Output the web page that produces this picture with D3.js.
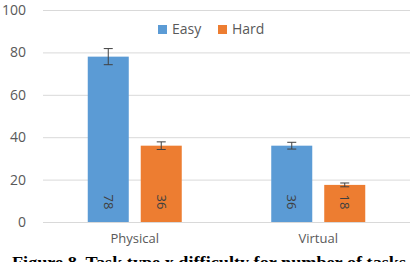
<!DOCTYPE html>
<html>
<head>
<meta charset="utf-8">
<script src="https://cdn.jsdelivr.net/npm/d3@7"></script>
<style>
  body { margin: 0; background: #fff; }
  svg { display: block; }
</style>
</head>
<body>
<svg id="chart" width="412" height="262"></svg>
<script>
// data
const categories = ['Physical', 'Virtual'];
const series = ['Easy', 'Hard'];
const easyValues = [78, 36];
const hardValues = [36, 17.5];
const easyErrors = [3.8, 1.6];
const hardErrors = [1.8, 0.9];
const easyLabels = ['78', '36'];
const hardLabels = ['36', '18'];
const yTicks = [0, 20, 40, 60, 80, 100];
const colors = ['#5b9bd5', '#ed7d31'];

let rows = [];
categories.forEach((c, i) => {
  rows.push({cat: c, s: 'Easy', v: easyValues[i], e: easyErrors[i], lab: easyLabels[i]});
  rows.push({cat: c, s: 'Hard', v: hardValues[i], e: hardErrors[i], lab: hardLabels[i]});
});

let svg = d3.select('#chart');
let font = '"Open Sans", "Liberation Sans", sans-serif';

let y = d3.scaleLinear().domain([0, 100]).range([222, 10]);
let x0 = d3.scaleBand().domain(categories).range([43, 410]);
let groupW = 94;
let x1 = d3.scaleBand().domain(series)
    .range([x0.bandwidth() / 2 - groupW / 2, x0.bandwidth() / 2 + groupW / 2])
    .paddingInner(0.226);
let color = d3.scaleOrdinal().domain(series).range(colors);

// gridlines + y labels
let yAxis = d3.axisLeft(y).tickValues(yTicks).tickSize(-367).tickPadding(17);
let gy = svg.append('g').attr('transform', 'translate(43,0)').call(yAxis);
gy.select('.domain').remove();
gy.selectAll('.tick line').attr('stroke', '#d9d9d9').attr('stroke-width', 1);
gy.selectAll('.tick text').attr('fill', '#595959').style('font-family', font).style('font-size', '14px');

// x labels
let xAxis = d3.axisBottom(x0).tickSize(0).tickPadding(12);
let gx = svg.append('g').attr('transform', 'translate(0,222)').call(xAxis);
gx.select('.domain').remove();
gx.selectAll('.tick text').attr('fill', '#595959').style('font-family', font).style('font-size', '13px');

// bars
let bars = svg.append('g').selectAll('g').data(rows).join('g')
    .attr('transform', d => `translate(${x0(d.cat) + x1(d.s)},0)`);

bars.append('rect')
    .attr('x', 0)
    .attr('y', d => y(d.v))
    .attr('width', x1.bandwidth())
    .attr('height', d => y(0) - y(d.v))
    .attr('fill', d => color(d.s));

// error bars
let bw = x1.bandwidth();
bars.append('path')
    .attr('d', d => {
      let t = y(d.v + d.e), b = y(d.v - d.e), m = bw / 2;
      return `M${m},${t}V${b}M${m - 4.5},${t}H${m + 4.5}M${m - 4.5},${b}H${m + 4.5}`;
    })
    .attr('stroke', '#404040').attr('stroke-width', 1).attr('fill', 'none');

// rotated value labels
bars.append('text')
    .attr('transform', `translate(${bw / 2},202) rotate(90)`)
    .attr('text-anchor', 'middle').attr('dy', '0.35em')
    .attr('fill', '#404040')
    .style('font-family', font).style('font-size', '13px')
    .text(d => d.lab);

// legend
let legend = svg.append('g').selectAll('g').data(series).join('g')
    .attr('transform', (d, i) => `translate(${158 + i * 60},0)`);
legend.append('rect').attr('x', 0).attr('y', 25).attr('width', 9).attr('height', 9)
    .attr('fill', d => color(d));
legend.append('text').attr('x', 14).attr('y', 34)
    .attr('fill', '#595959')
    .style('font-family', font).style('font-size', '14px')
    .text(d => d);

// caption, cut off at the bottom edge like in the source
svg.append('text')
    .attr('x', 12).attr('y', 268)
    .attr('textLength', 394).attr('lengthAdjust', 'spacingAndGlyphs')
    .style('font-family', '"Liberation Serif", "Times New Roman", serif')
    .style('font-size', '16px').style('font-weight', 'bold')
    .attr('fill', '#000')
    .text('Figure 8. Task type x difficulty for number of tasks');
</script>
</body>
</html>
